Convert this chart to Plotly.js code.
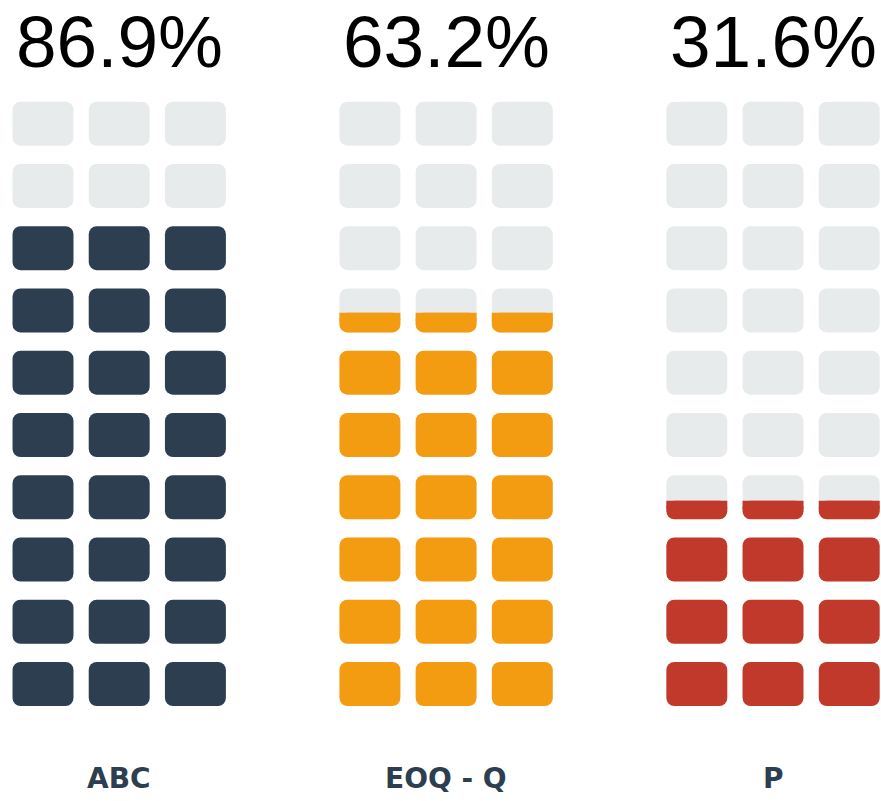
<!DOCTYPE html>
<html>
<head>
<meta charset="utf-8">
<script src="https://cdn.plot.ly/plotly-3.0.1.min.js"></script>
<style>
  html, body { margin: 0; padding: 0; background: #ffffff; }
  #chart { width: 881px; height: 801px; }
</style>
</head>
<body>
<div id="chart"></div>
<script>
// ---- Data ----
const categories = ['ABC', 'EOQ - Q', 'P'];
const percentValues = [86.9, 63.2, 31.6];
// number of cell rows that are coloured in each column (as drawn in the picture)
const filledRows = [8, 6.45, 3.42];
const fillColors = ['#2c3e50', '#f39c12', '#c0392b'];
const emptyColor = '#e8ebec';

// ---- Layout constants ----
const nRows = 10;
const nCols = 3;
const groupStep = 4.29;
const barWidth = 0.8;
const cellHeight = 0.707;
const radius = 8;                       // corner radius, px
const yRange = [-1.879, 10.986];
const plotHeight = 801;
const radiusUnits = radius * (yRange[1] - yRange[0]) / plotHeight;

function makeTrace(color, r) {
  return {
    type: 'bar', x: [], y: [], base: [], width: barWidth,
    marker: { color: color, cornerradius: r, line: { width: 0 } },
    hoverinfo: 'skip', showlegend: false
  };
}

const traces = [];
const emptyT = makeTrace(emptyColor, radius);
traces.push(emptyT);

categories.forEach((cat, g) => {
  const colT = makeTrace(fillColors[g], radius);
  const flatT = makeTrace(fillColors[g], 0);
  const full = Math.floor(filledRows[g]);
  const frac = filledRows[g] - full;
  for (let c = 0; c < nCols; c++) {
    const x = g * groupStep + c;
    for (let r = 0; r < nRows; r++) {
      const bottom = r - cellHeight / 2;
      if (r < full) {
        colT.x.push(x); colT.base.push(bottom); colT.y.push(cellHeight);
      } else {
        emptyT.x.push(x); emptyT.base.push(bottom); emptyT.y.push(cellHeight);
        if (r === full && frac > 0) {
          const h = frac * cellHeight;
          // rounded part (bottom corners)
          colT.x.push(x); colT.base.push(bottom); colT.y.push(h);
          // flat strip squaring off the top edge of the partial fill
          flatT.x.push(x); flatT.base.push(bottom + h - radiusUnits); flatT.y.push(radiusUnits);
        }
      }
    }
  }
  traces.push(colT);
  traces.push(flatT);
});

const annotations = [];
categories.forEach((cat, g) => {
  const xc = g * groupStep + 1;
  annotations.push({
    x: xc, y: 1, xref: 'x', yref: 'paper',
    text: percentValues[g].toFixed(1) + '%', showarrow: false,
    xanchor: 'center', yanchor: 'top', borderpad: 0,
    font: { family: 'Liberation Sans, Arial, sans-serif', size: 73, color: '#000000' }
  });
  annotations.push({
    x: xc, y: -1.51, xref: 'x', yref: 'y',
    text: '<b>' + cat + '</b>', showarrow: false,
    xanchor: 'center', yanchor: 'middle',
    font: { family: 'DejaVu Sans, sans-serif', size: 28, color: '#2c3e50' }
  });
});

const layout = {
  width: 881, height: 801,
  margin: { l: 0, r: 0, t: 0, b: 0, pad: 0 },
  paper_bgcolor: '#ffffff', plot_bgcolor: '#ffffff',
  barmode: 'overlay',
  xaxis: { range: [-0.5643, 10.997], visible: false, fixedrange: true },
  yaxis: { range: yRange, visible: false, fixedrange: true },
  annotations: annotations,
  showlegend: false
};

Plotly.newPlot('chart', traces, layout, { displayModeBar: false, staticPlot: true });
</script>
</body>
</html>
